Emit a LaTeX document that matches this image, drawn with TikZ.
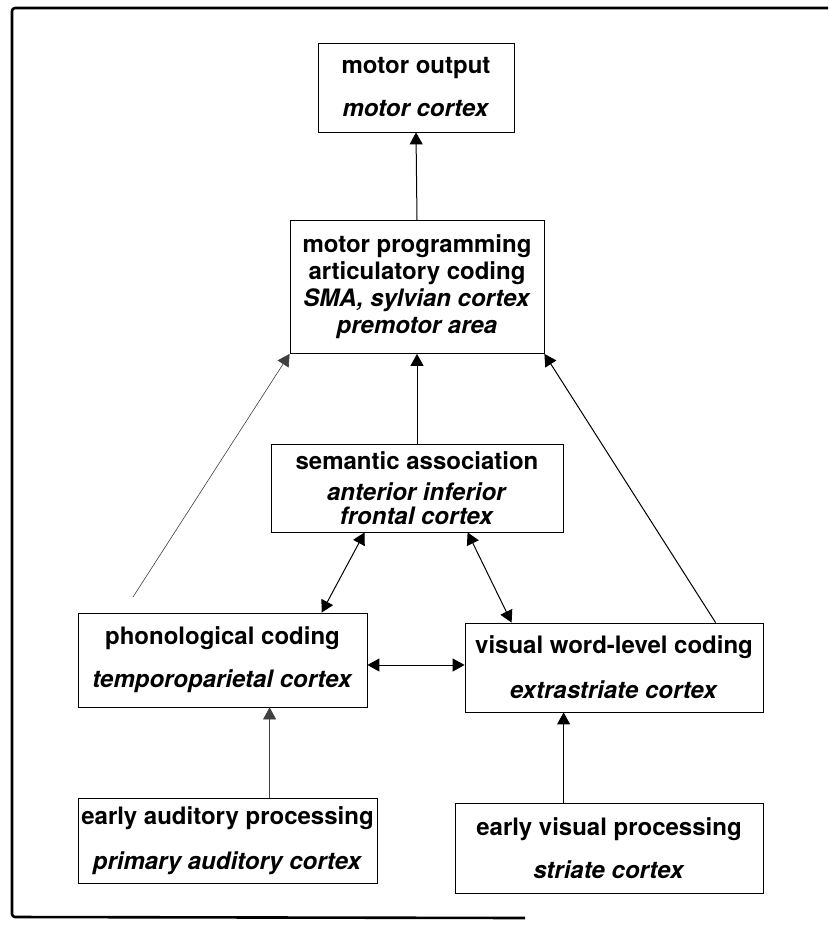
\documentclass[tikz,border=0pt]{standalone}
\usepackage{fontspec}
\setmainfont{TeX Gyre Heros}
\usetikzlibrary{arrows.meta,calc}
\tikzset{
  box/.style={draw=black, line width=0.8pt, align=center, inner sep=0pt,
    font=\bfseries\fontsize{24}{43}\selectfont},
  con/.style={line width=1pt, draw=black},
  faintcon/.style={line width=0.6pt, draw=black!75},
  ahead/.tip={Triangle[length=12pt,width=13pt]},
  tip/.style={-ahead},
  tips/.style={ahead-ahead},
  frame/.style={line width=2.6pt, line join=round, rounded corners=3pt}
}
\begin{document}
\lineskiplimit=-50pt\relax
\begin{tikzpicture}[x=1pt,y=-1pt]
\useasboundingbox (0,0) rectangle (828,937);
% outer frame
\draw[frame] (828,8) -- (12,8) -- (12,917) -- (525,918);

% boxes
\node[box, minimum width=196pt, minimum height=89pt] (mo) at (416,87.5)
  {motor output\\\textit{motor cortex}};
\node[box, minimum width=254pt, minimum height=133pt,
  font=\bfseries\fontsize{24}{27}\selectfont] (mp) at (417,287)
  {motor programming\\articulatory coding\\\textit{SMA, sylvian cortex}\\\textit{premotor area}};
\node[box, minimum width=292pt, minimum height=88pt,
  font=\bfseries\fontsize{24}{24}\selectfont] (sa) at (417,488)
  {semantic association\\[7pt]\textit{anterior inferior}\\\textit{frontal cortex}};
\node[box, minimum width=289pt, minimum height=94pt] (ph) at (222.5,660)
  {phonological coding\\\textit{temporoparietal cortex}};
\node[box, minimum width=298pt, minimum height=89pt,
  font=\bfseries\fontsize{24}{45}\selectfont] (vw) at (614,667.5)
  {visual word-level coding\\\textit{extrastriate cortex}};
\node[box, minimum width=299pt, minimum height=85pt,
  font=\bfseries\fontsize{24}{45}\selectfont] (ea) at (227.5,840.5)
  {early auditory processing\\\textit{primary auditory cortex}};
\node[box, minimum width=308pt, minimum height=90pt] (ev) at (609,848)
  {early visual processing\\\textit{striate cortex}};

% coordinates for connector ends
\coordinate (pstart) at (133,597);
\coordinate (vwa) at ($(vw.north west)+(251,0)$);
\coordinate (sal) at ($(sa.south west)+(94,0)$);
\coordinate (phr) at ($(ph.north west)+(244,0)$);
\coordinate (sar) at ($(sa.south west)+(197,0)$);
\coordinate (vwl) at ($(vw.north west)+(47,0)$);
\coordinate (phe) at ($(ph.east)+(0,5)$);
\coordinate (eatop) at ($(ea.north west)+(192,0)$);
\coordinate (evtop) at ($(ev.north west)+(109,0)$);

% connectors
\draw[con, tip] (mp.north) -- (mo.south);
\draw[con, tip] (sa.north) -- (mp.south);
\draw[faintcon, tip] (pstart) -- (mp.south west);
\draw[con, tip] (vwa) -- (mp.south east);
\draw[con, tips] (sal) -- (phr);
\draw[con, tips] (sar) -- (vwl);
\draw[con, tips] (phe) -- (vw.west |- phe);
\draw[faintcon, tip] (eatop) -- (ph.south -| eatop);
\draw[con, tip] (evtop) -- (vw.south -| evtop);
\end{tikzpicture}
\end{document}
